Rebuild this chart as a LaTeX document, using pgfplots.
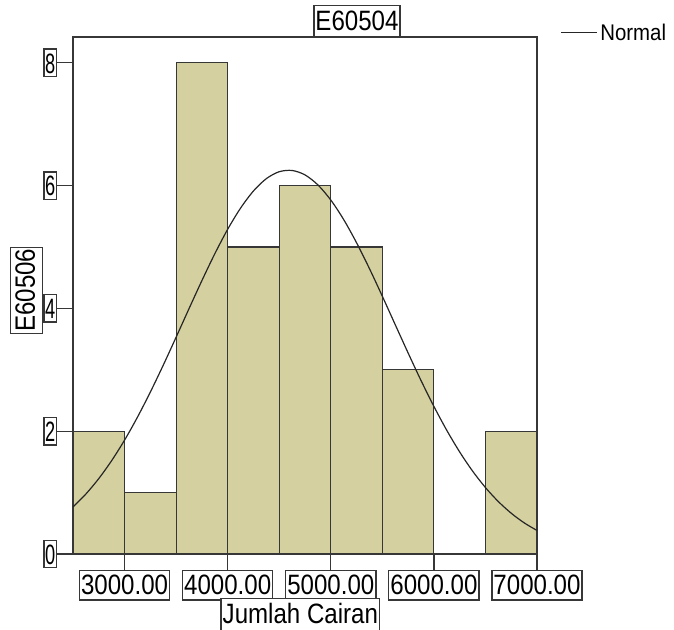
\documentclass[border=0pt]{standalone}
\usepackage{pgfplots}
\pgfplotsset{compat=1.18}
\usepackage{fontspec}
\setmainfont{Liberation Sans}
\newfontfamily\lblfont[FakeStretch=0.86]{Liberation Sans}
\newfontfamily\yfont[FakeStretch=0.65]{Liberation Sans}
\newfontfamily\legfont[FakeStretch=0.9]{Liberation Sans}
\definecolor{barfill}{RGB}{212,208,160}
\definecolor{axgray}{RGB}{55,55,55}
\begin{document}
\begin{tikzpicture}
\begin{axis}[name=ax, width=348pt, height=387.75pt, scale only axis,
  xmin=2500, xmax=7000, ymin=0, ymax=8.42,
  xtick={3000,4000,5000,6000,7000},
  xticklabels={3000.00,4000.00,5000.00,6000.00,7000.00},
  ytick={0,2,4,6,8},
  tick align=outside, major tick length=12pt,
  xtick pos=bottom, ytick pos=left,
  axis line style={axgray, line width=1pt},
  tick style={axgray, line width=1pt},
  /pgf/number format/assume math mode=true,
  xticklabel style={font=\lblfont\fontsize{21}{24}\selectfont, draw=axgray, fill=white, line width=1pt,
     inner xsep=1.2pt, inner ysep=1pt, text height=17pt, text depth=3pt},
  yticklabel style={font=\yfont\fontsize{21}{24}\selectfont, draw=axgray, fill=white, line width=1pt,
     inner xsep=0.8pt, inner ysep=1pt, text height=17pt, text depth=1.5pt},
  title={E60504},
  title style={at={(0.612,1)}, anchor=south, yshift=-6pt, draw=axgray, fill=white, line width=1pt,
     inner xsep=1.2pt, inner ysep=1pt, text height=17.5pt, text depth=3.5pt, font=\lblfont\fontsize{21}{24}\selectfont},
  xlabel={Jumlah Cairan}, ylabel={E60506},
  label style={font=\lblfont\fontsize{21}{24}\selectfont, draw=axgray, fill=white, line width=1pt,
     inner xsep=1.2pt, inner ysep=1pt, text height=17.5pt, text depth=4.5pt},
  xlabel style={at={(0.49,0)}, anchor=north, yshift=-33pt},
  ylabel style={at={(0,0.51)}, anchor=center, yshift=35pt},
  legend style={at={(1.05,1.008)}, anchor=west, draw=none, fill=none, font=\legfont\fontsize{17}{19}\selectfont, inner sep=0pt},
  legend image code/.code={\draw[#1] (0pt,0pt) -- (27pt,0pt);},
  clip=false,
]
\addplot[ybar interval, fill=barfill, draw=axgray, line width=0.9pt, forget plot] coordinates {
(2500,2) (3000,1) (3500,8) (4000,5) (4500,6) (5000,5) (5500,3) (6000,0) (6500,2) (7000,2)};
\addplot[black!85, line width=0.9pt, smooth] coordinates {
(2500,0.766) (2625,0.977) (2750,1.228) (2875,1.521) (3000,1.854) (3125,2.228)
(3250,2.637) (3375,3.074) (3500,3.531) (3625,3.995) (3750,4.452) (3875,4.889)
(4000,5.288) (4125,5.633) (4250,5.912) (4375,6.113) (4500,6.226) (4625,6.246)
(4750,6.174) (4875,6.011) (5000,5.765) (5125,5.447) (5250,5.069) (5375,4.648)
(5500,4.198) (5625,3.735) (5750,3.274) (5875,2.826) (6000,2.404) (6125,2.014)
(6250,1.662) (6375,1.351) (6500,1.082) (6625,0.854) (6750,0.664) (6875,0.508)
(7000,0.383)};
\addlegendentry{Normal}
\end{axis}
\pgfresetboundingbox
\path[use as bounding box] ([xshift=-54.75pt,yshift=-57pt]ax.south west) rectangle ([xshift=102.75pt,yshift=27.75pt]ax.north east);
\end{tikzpicture}
\end{document}
